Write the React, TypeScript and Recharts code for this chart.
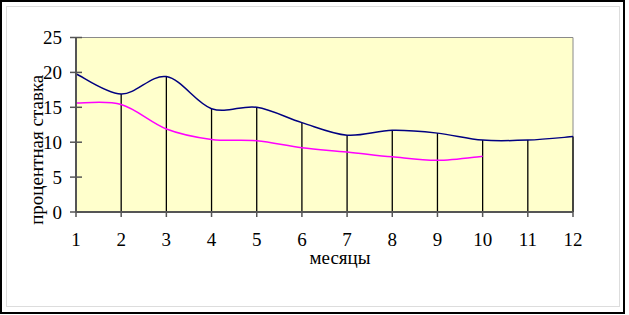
import React from 'react';
import { ComposedChart, Line, XAxis, YAxis, CartesianGrid, ReferenceLine } from 'recharts';

const months = [1, 2, 3, 4, 5, 6, 7, 8, 9, 10, 11, 12];
const blueSeries = [19.8, 16.9, 19.4, 14.8, 15.0, 12.8, 11.0, 11.7, 11.3, 10.3, 10.3, 10.8];
const pinkSeries = [15.6, 15.4, 11.9, 10.4, 10.2, 9.2, 8.6, 7.9, 7.4, 8.0];
const yTicks = [0, 5, 10, 15, 20, 25];
const xLabel = 'месяцы';
const yLabel = 'процентная ставка';

const data = months.map((m, i) => ({
  m,
  blue: blueSeries[i],
  pink: i < pinkSeries.length ? pinkSeries[i] : null,
}));

// Excel-style smoothed line (Catmull-Rom with 1/6 tension control points)
const excelCurve = (context: any) => {
  let pts: number[][] = [];
  return {
    areaStart() {},
    areaEnd() {},
    lineStart() {
      pts = [];
    },
    point(x: number, y: number) {
      pts.push([+x, +y]);
    },
    lineEnd() {
      if (!pts.length) return;
      context.moveTo(pts[0][0], pts[0][1]);
      if (pts.length === 1) return;
      for (let i = 0; i < pts.length - 1; i++) {
        const p0 = pts[i - 1] || pts[i];
        const p1 = pts[i];
        const p2 = pts[i + 1];
        const p3 = pts[i + 2] || p2;
        const c1x = p1[0] + (p2[0] - p0[0]) / 6;
        const c1y = p1[1] + (p2[1] - p0[1]) / 6;
        const c2x = p2[0] - (p3[0] - p1[0]) / 6;
        const c2y = p2[1] - (p3[1] - p1[1]) / 6;
        context.bezierCurveTo(c1x, c1y, c2x, c2y, p2[0], p2[1]);
      }
    },
  };
};

const FONT = '"Liberation Serif", "Times New Roman", serif';

const YTick = (props: any) => {
  const { x, y, payload } = props;
  return (
    <g>
      <line x1={x + 14} x2={x + 20} y1={y} y2={y} stroke="#555" strokeWidth={1.5} />
      <text x={x} y={y} textAnchor="end" dominantBaseline="central" fontFamily={FONT} fontSize={19} fill="#000">
        {payload.value}
      </text>
    </g>
  );
};

const XTick = (props: any) => {
  const { x, y, payload } = props;
  return (
    <text x={x} y={y} textAnchor="middle" dy="0.71em" fontFamily={FONT} fontSize={19} fill="#000">
      {payload.value}
    </text>
  );
};

export default function App() {
  return (
    <div style={{ position: 'absolute', left: 0, top: 0, width: 629, height: 315, background: '#fff' }}>
      <div
        style={{
          position: 'absolute',
          left: 0,
          top: 0,
          width: 625,
          height: 314,
          border: '2px solid #000',
          boxSizing: 'border-box',
        }}
      />
      <div
        style={{
          position: 'absolute',
          left: 6,
          top: 6,
          width: 614,
          height: 301,
          border: '1px solid #ddd',
          boxSizing: 'border-box',
        }}
      />
      <div style={{ position: 'absolute', left: 0, top: 0 }}>
        <ComposedChart
          width={629}
          height={315}
          data={data}
          margin={{ top: 37.5, right: 56, bottom: 73, left: 26 }}
        >
          <CartesianGrid
            fill="#FFFFCC"
            fillOpacity={1}
            stroke="#8a8a8a"
            strokeWidth={1}
            horizontalValues={[25]}
            verticalValues={[12]}
          />
          <XAxis
            dataKey="m"
            type="number"
            domain={[1, 12]}
            ticks={months}
            interval={0}
            height={30}
            axisLine={{ stroke: '#555', strokeWidth: 2 }}
            tickLine={{ stroke: '#555', strokeWidth: 1.5 }}
            tickSize={5}
            tickMargin={16}
            tick={<XTick />}
            label={{
              value: xLabel,
              content: (p: any) => {
                const vb = p.viewBox;
                return (
                  <text x={vb.x + vb.width / 2 + 15.5} y={vb.y + 52} textAnchor="middle" fontFamily={FONT} fontSize={19} fill="#000">
                    {xLabel}
                  </text>
                );
              },
            }}
          />
          <YAxis
            type="number"
            domain={[0, 25]}
            ticks={yTicks}
            interval={0}
            width={50}
            axisLine={{ stroke: '#555', strokeWidth: 2 }}
            tickLine={{ stroke: '#555', strokeWidth: 1.5 }}
            tickSize={6}
            tickMargin={8}
            tick={<YTick />}
            label={{
              value: yLabel,
              content: (p: any) => {
                const vb = p.viewBox;
                const cx = 36;
                const cy = vb.y + vb.height / 2 + 25;
                return (
                  <text
                    x={cx}
                    y={cy}
                    textAnchor="middle"
                    dominantBaseline="central"
                    transform={`rotate(-90, ${cx}, ${cy})`}
                    fontFamily={FONT}
                    fontSize={19}
                    fill="#000"
                  >
                    {yLabel}
                  </text>
                );
              },
            }}
          />
          {months.map((m, i) => (
            <ReferenceLine
              key={m}
              segment={[
                { x: m, y: 0 },
                { x: m, y: blueSeries[i] },
              ]}
              stroke="#000"
              strokeWidth={1.3}
              ifOverflow="visible"
            />
          ))}
          <Line
            dataKey="pink"
            type={excelCurve as any}
            stroke="#FF00FF"
            strokeWidth={1.5}
            dot={false}
            activeDot={false}
            isAnimationActive={false}
          />
          <Line
            dataKey="blue"
            type={excelCurve as any}
            stroke="#000080"
            strokeWidth={1.5}
            dot={false}
            activeDot={false}
            isAnimationActive={false}
          />
        </ComposedChart>
      </div>
    </div>
  );
}
